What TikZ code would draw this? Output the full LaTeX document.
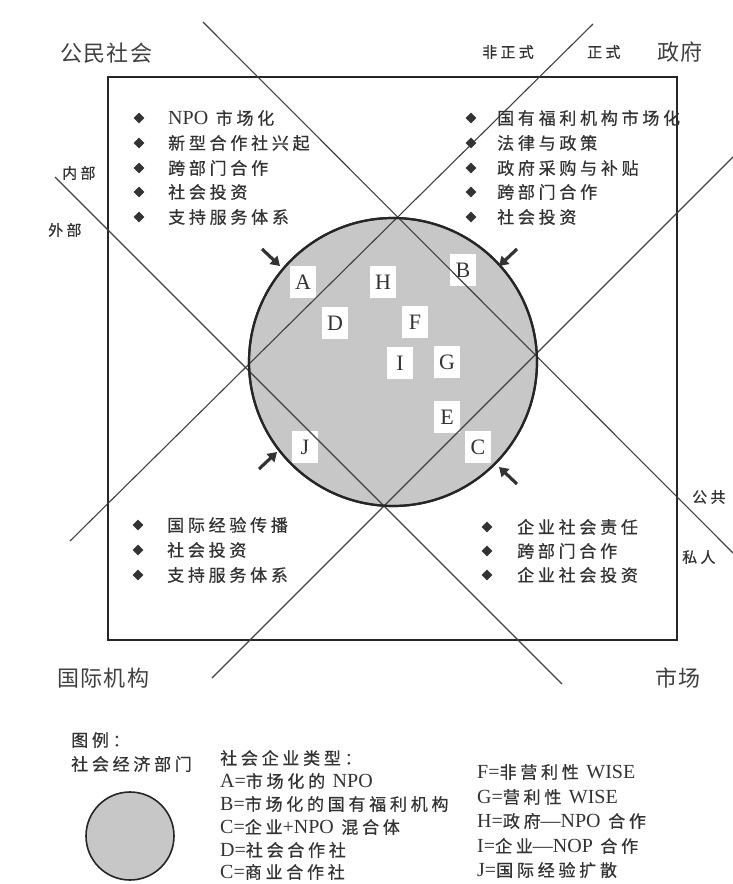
\documentclass[tikz,border=0pt]{standalone}
\usepackage{fontspec}
\setmainfont{Liberation Serif}
\newfontfamily\cjk{Noto Sans CJK SC}[LetterSpace=22,FakeBold=0.6]
\newfontfamily\cjkbig{Noto Sans CJK SC}[LetterSpace=6]
\usetikzlibrary{arrows.meta,shapes.geometric}
\tikzset{
  txt/.style={inner sep=0, anchor=west, text=black!80, font=\fontsize{17}{19}\selectfont\cjk},
  lgd/.style={inner sep=0, anchor=west, text=black!80, font=\fontsize{17}{19}\selectfont\cjk},
  big/.style={inner sep=0, anchor=west, text=black!75, font=\fontsize{22}{24}\selectfont\cjkbig},
  small/.style={inner sep=0, anchor=west, text=black!80, font=\fontsize{15}{17}\selectfont\cjk},
  bul/.style={diamond, fill=black!80, inner sep=0, minimum size=11},
  letter/.style={fill=white, minimum width=26, minimum height=32, inner sep=0, font=\fontsize{22}{24}\selectfont, text=black!80},
  diag/.style={draw=black!75, line width=1.1},
  arr/.style={-{Triangle[length=9,width=11]}, line width=3.2, draw=black!80},
  sector/.style={fill=black!22, draw=black!85, line width=2.2},
}
\newcommand{\lat}[1]{{\rmfamily\fontsize{20}{22}\selectfont #1}}
\begin{document}
\begin{tikzpicture}[x=1pt,y=-1pt]
\useasboundingbox (0,0) rectangle (733,884);
% frame
\draw[line width=2.2, draw=black!85] (108,77) rectangle (677,640);
% sector circle
\node[sector, circle, minimum size=288, inner sep=0] (sec) at (393,362) {};
% letters
\node[letter] (lA) at (303,282) {A};
\node[letter] (lH) at (383,282) {H};
\node[letter] (lB) at (463,270) {B};
\node[letter] (lD) at (335,323) {D};
\node[letter] (lF) at (415,322) {F};
\node[letter] (lI) at (400,363) {I};
\node[letter] (lG) at (447,362) {G};
\node[letter] (lE) at (447,417) {E};
\node[letter] (lJ) at (305,447) {J};
\node[letter] (lC) at (478,447) {C};
% diagonal lines
\coordinate (l1a) at (203,22);  \coordinate (l1b) at (733,553);
\coordinate (l2a) at (593,24);  \coordinate (l2b) at (70,541);
\coordinate (l3a) at (55,177);  \coordinate (l3b) at (562,684);
\coordinate (l4a) at (212,678); \coordinate (l4b) at (733,157);
\draw[diag] (l1a) -- (l1b);
\draw[diag] (l2a) -- (l2b);
\draw[diag] (l3a) -- (l3b);
\draw[diag] (l4a) -- (l4b);
% circle outline on top
\draw[draw=black!85, line width=2.2] (sec.center) circle[radius=144];
% arrows
\coordinate (a1s) at (262,249); \coordinate (a1e) at (280,266);
\coordinate (a2s) at (517,249); \coordinate (a2e) at (499,266);
\coordinate (a3s) at (259,469); \coordinate (a3e) at (277,452);
\coordinate (a4s) at (517,484); \coordinate (a4e) at (499,467);
\draw[arr] (a1s) -- (a1e);
\draw[arr] (a2s) -- (a2e);
\draw[arr] (a3s) -- (a3e);
\draw[arr] (a4s) -- (a4e);
% corner labels
\node[big] (cs) at (60,53) {公民社会};
\node[big] (gov) at (657,52) {政府};
\node[big] (intl) at (57,678) {国际机构};
\node[big] (mkt) at (655,678) {市场};
% axis labels
\node[small] (fzs) at (482,52) {非正式};
\node[small] (zs) at (587,52) {正式};
\node[small] (nb) at (62,173) {内部};
\node[small] (wb) at (48,230) {外部};
\node[small] (gg) at (692,497) {公共};
\node[small] (sr) at (682,557) {私人};
% top-left list
\node[bul] (b11) at (139,118) {}; \node[txt] (t11) at (168,118) {\lat{NPO} 市场化};
\node[bul] (b12) at (139,143) {}; \node[txt] (t12) at (168,143) {新型合作社兴起};
\node[bul] (b13) at (139,168) {}; \node[txt] (t13) at (168,168) {跨部门合作};
\node[bul] (b14) at (139,192) {}; \node[txt] (t14) at (168,192) {社会投资};
\node[bul] (b15) at (139,217) {}; \node[txt] (t15) at (168,217) {支持服务体系};
% top-right list
\node[bul] (b21) at (471,118) {}; \node[txt] (t21) at (497,118) {国有福利机构市场化};
\node[bul] (b22) at (471,143) {}; \node[txt] (t22) at (497,143) {法律与政策};
\node[bul] (b23) at (471,168) {}; \node[txt] (t23) at (497,168) {政府采购与补贴};
\node[bul] (b24) at (471,192) {}; \node[txt] (t24) at (497,192) {跨部门合作};
\node[bul] (b25) at (471,217) {}; \node[txt] (t25) at (497,217) {社会投资};
% bottom-left list
\node[bul] (b31) at (138,525) {}; \node[txt] (t31) at (167,525) {国际经验传播};
\node[bul] (b32) at (138,550) {}; \node[txt] (t32) at (167,550) {社会投资};
\node[bul] (b33) at (138,575) {}; \node[txt] (t33) at (167,575) {支持服务体系};
% bottom-right list
\node[bul] (b41) at (487,527) {}; \node[txt] (t41) at (517,527) {企业社会责任};
\node[bul] (b42) at (487,551) {}; \node[txt] (t42) at (517,551) {跨部门合作};
\node[bul] (b43) at (487,575) {}; \node[txt] (t43) at (517,575) {企业社会投资};
% legend
\node[lgd] (lg1) at (71,740) {图例：};
\node[lgd] (lg2) at (71,764) {社会经济部门};
\node[sector, circle, minimum size=88, inner sep=0, line width=1.6] (lgc) at (130,836) {};
\node[lgd] (h0) at (220,758) {社会企业类型：};
\node[lgd] (hA) at (220,781) {\lat{A=}市场化的 \lat{NPO}};
\node[lgd] (hB) at (220,804) {\lat{B=}市场化的国有福利机构};
\node[lgd] (hC) at (220,827) {\lat{C=}企业\lat{+NPO} 混合体};
\node[lgd] (hD) at (220,850) {\lat{D=}社会合作社};
\node[lgd] (hE) at (220,872) {\lat{C=}商业合作社};
\node[lgd] (hF) at (477,772) {\lat{F=}非营利性 \lat{WISE}};
\node[lgd] (hG) at (477,797) {\lat{G=}营利性 \lat{WISE}};
\node[lgd] (hH) at (477,821) {\lat{H=}政府\lat{—NPO} 合作};
\node[lgd] (hI) at (477,846) {\lat{I=}企业\lat{—NOP} 合作};
\node[lgd] (hJ) at (477,870) {\lat{J=}国际经验扩散};
\end{tikzpicture}
\end{document}
